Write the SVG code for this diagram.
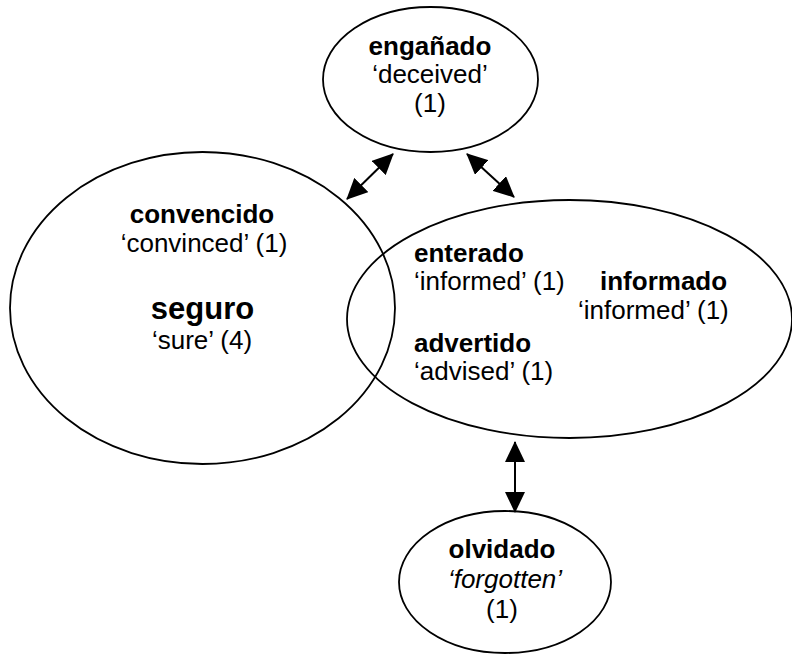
<svg xmlns="http://www.w3.org/2000/svg" width="792" height="656" viewBox="0 0 792 656">
<style>
.node ellipse{fill:none;stroke:#000;stroke-width:1.8}
text{font-family:"Liberation Sans",Arial,sans-serif;font-size:26px;fill:#000}
.b{font-weight:bold}
.big{font-size:31px}
.c{text-anchor:middle}
.i{font-style:italic}
.conn line{stroke:#000;stroke-width:2;marker-start:url(#ah);marker-end:url(#ah)}
</style>
<defs>
<marker id="ah" viewBox="0 0 21 20" refX="20" refY="10" markerWidth="21" markerHeight="20" markerUnits="userSpaceOnUse" orient="auto-start-reverse">
<path d="M0,0 L21,10 L0,20 z" fill="#000"/>
</marker>
</defs>
<g id="seguro" class="node">
<ellipse cx="202.5" cy="308" rx="192.5" ry="156"/>
<text class="b c" x="202" y="223">convencido</text>
<text class="c" x="204" y="252">‘convinced’ (1)</text>
<text class="b c big" x="202.5" y="319">seguro</text>
<text class="c" x="202" y="349">‘sure’ (4)</text>
</g>
<g id="enterado" class="node">
<ellipse cx="569.5" cy="319" rx="222.5" ry="119"/>
<text class="b" x="414" y="262">enterado</text>
<text x="414" y="290">‘informed’ (1)</text>
<text class="b" x="600" y="290">informado</text>
<text x="578" y="319">‘informed’ (1)</text>
<text class="b" x="414" y="352">advertido</text>
<text x="414" y="380">‘advised’ (1)</text>
</g>
<g id="enganado" class="node">
<ellipse cx="430.5" cy="79.5" rx="107.5" ry="72.5"/>
<text class="b c" x="430" y="55">engañado</text>
<text class="c" x="430" y="83">‘deceived’</text>
<text class="c" x="430" y="112">(1)</text>
</g>
<g id="olvidado" class="node">
<ellipse cx="505" cy="582" rx="106" ry="71"/>
<text class="b c" x="502" y="558">olvidado</text>
<text class="c i" x="505" y="588">‘forgotten’</text>
<text class="c" x="502" y="618">(1)</text>
</g>
<g id="connectors" class="conn">
<line x1="393" y1="154" x2="347" y2="199"/>
<line x1="467" y1="154" x2="514" y2="197"/>
<line x1="515" y1="442" x2="515" y2="512"/>
</g>
</svg>
